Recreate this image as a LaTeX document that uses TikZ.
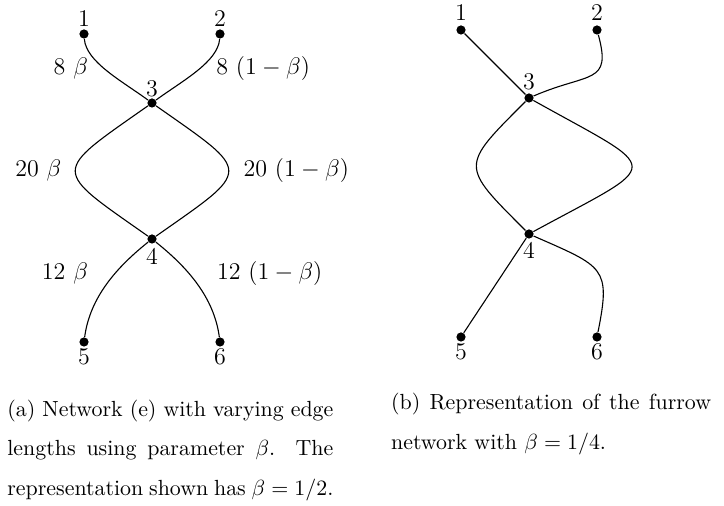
\documentclass[tikz,border=0pt]{standalone}
\usepackage{tikz}

\begin{document}
\begin{tikzpicture}[x=0.5pt, y=-0.5pt,
    vertex/.style={circle, fill=black, inner sep=0pt, minimum size=4.6pt},
    edge/.style={draw=black, line width=0.55pt},
    num/.style={font=\fontsize{12}{14}\selectfont, inner sep=0pt, anchor=base},
    wlabel/.style={font=\fontsize{12}{14}\selectfont, inner sep=0pt},
    capt/.style={font=\fontsize{10.95}{19.6}\selectfont, inner sep=0pt,
      align=justify, anchor=base west}
  ]
  \useasboundingbox (0,0) rectangle (724,506);

  % (a) network with beta = 1/2
  \node[vertex] (a1) at (84,34) {};
  \node[vertex] (a2) at (220,34) {};
  \node[vertex] (a3) at (152,103) {};
  \node[vertex] (a4) at (152,239) {};
  \node[vertex] (a5) at (84,342) {};
  \node[vertex] (a6) at (220,342) {};

  \node[num] (na1) at (84,26.7) {1};
  \node[num] (na2) at (220,26.7) {2};
  \node[num] (na3) at (152,96.7) {3};
  \node[num] (na4) at (152,265) {4};
  \node[num] (na5) at (84,365) {5};
  \node[num] (na6) at (220,365) {6};

  \draw[edge] (a1) .. controls +(2,28) and +(-30,-22) .. (a3);
  \draw[edge] (a2) .. controls +(-2,28) and +(30,-22) .. (a3);
  \draw[edge] (a3) .. controls +(-101,71) and +(-101,-71) .. (a4);
  \draw[edge] (a3) .. controls +(101,71) and +(101,-71) .. (a4);
  \draw[edge] (a4) .. controls +(-35,28) and +(6,-45) .. (a5);
  \draw[edge] (a4) .. controls +(35,28) and +(-6,-45) .. (a6);

  \node[wlabel, anchor=base east] (w13) at (88.3,75) {$8\ \beta$};
  \node[wlabel, anchor=base west] (w23) at (216,75) {$8\ (1-\beta)$};
  \node[wlabel, anchor=base east] (w34l) at (61.7,176.7) {$20\ \beta$};
  \node[wlabel, anchor=base west] (w34r) at (243.3,176.7) {$20\ (1-\beta)$};
  \node[wlabel, anchor=base east] (w45) at (88.3,280) {$12\ \beta$};
  \node[wlabel, anchor=base west] (w46) at (216.7,280) {$12\ (1-\beta)$};

  % (b) furrow network with beta = 1/4
  \node[vertex] (b1) at (461,30) {};
  \node[vertex] (b2) at (597,30) {};
  \node[vertex] (b3) at (529,98) {};
  \node[vertex] (b4) at (529,234) {};
  \node[vertex] (b5) at (461,337) {};
  \node[vertex] (b6) at (597,337) {};

  \node[num] (nb1) at (461,20.7) {1};
  \node[num] (nb2) at (597,20.7) {2};
  \node[num] (nb3) at (529,90) {3};
  \node[num] (nb4) at (529,258.3) {4};
  \node[num] (nb5) at (461,360) {5};
  \node[num] (nb6) at (597,360) {6};

  \draw[edge] (b1) -- (b3);
  \draw[edge] (b2) .. controls +(15,55) and +(60,-26) .. (b3);
  \draw[edge] (b3) .. controls +(-69,69) and +(-69,-69) .. (b4);
  \draw[edge] (b3) .. controls +(136,76) and +(136,-74) .. (b4);
  \draw[edge] (b4) -- (b5);
  \draw[edge] (b4) .. controls +(75,33) and +(14,-70) .. (b6);

  % captions
  \node[capt, text width=163pt] (capa) at (7,416.7)
    {(a) Network (e) with varying edge\linebreak lengths using parameter $\beta$. The\linebreak representation shown has $\beta=1/2$.};
  \node[capt, text width=160pt] (capb) at (390.7,410)
    {(b) Representation of the furrow\linebreak network with $\beta=1/4$.};
\end{tikzpicture}
\end{document}
